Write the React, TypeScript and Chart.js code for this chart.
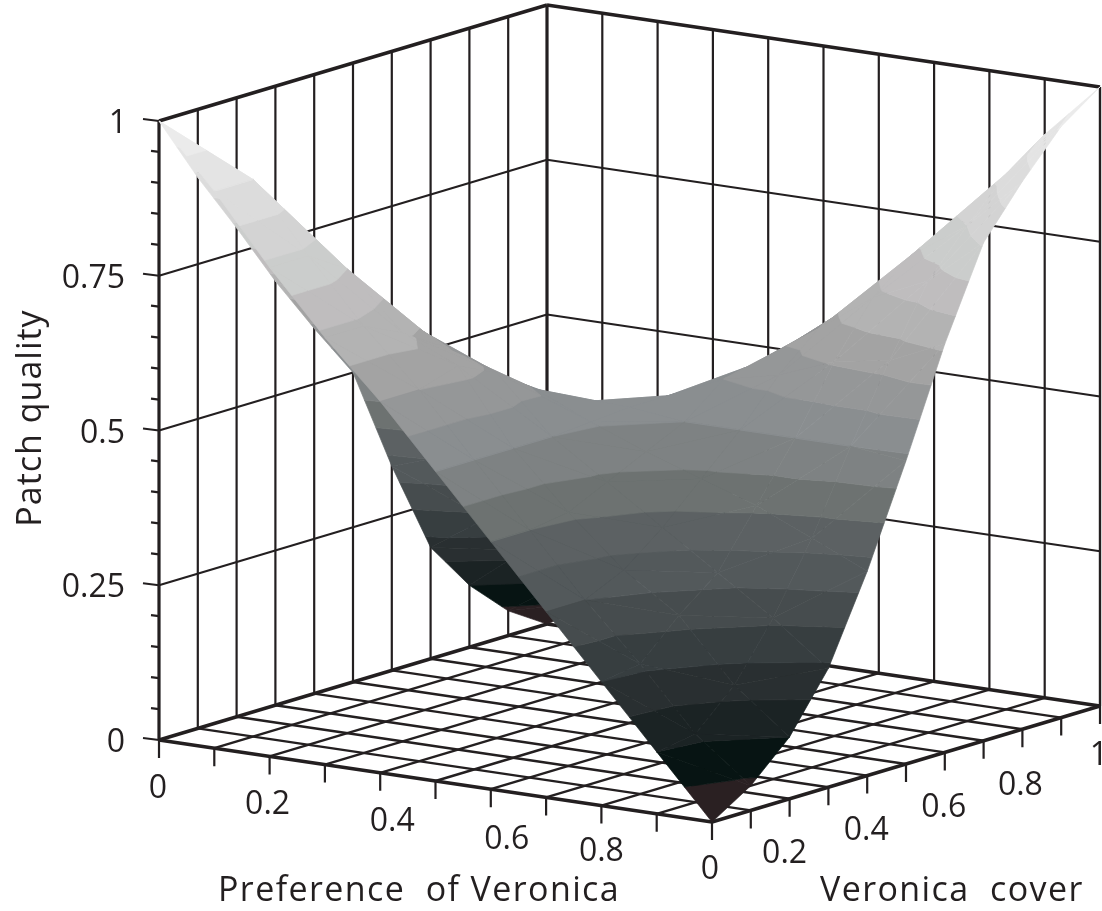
import React, { useEffect, useRef } from "react";
import { Chart, registerables } from "chart.js";

Chart.register(...registerables);

// Grid positions on the two horizontal axes
const preference = [0, 0.1, 0.2, 0.3, 0.4, 0.5, 0.6, 0.7, 0.8, 0.9, 1];
const cover = [0, 0.1, 0.2, 0.3, 0.4, 0.5, 0.6, 0.7, 0.8, 0.9, 1];

// Patch quality: one row per preference value, one column per cover value
const q00 = [1.0, 0.89, 0.79, 0.685, 0.59, 0.5, 0.33, 0.18, 0.1, 0.04, 0.0];
const q01 = [0.9, 0.9, 0.8, 0.69, 0.59, 0.49, 0.36, 0.24, 0.17, 0.1, 0.05];
const q02 = [0.79, 0.79, 0.75, 0.67, 0.61, 0.55, 0.41, 0.31, 0.25, 0.18, 0.12];
const q03 = [0.69, 0.69, 0.66, 0.62, 0.565, 0.52, 0.43, 0.37, 0.32, 0.27, 0.21];
const q04 = [0.6, 0.6, 0.62, 0.59, 0.545, 0.505, 0.47, 0.43, 0.41, 0.38, 0.34];
const q05 = [0.5, 0.5, 0.5, 0.5, 0.505, 0.51, 0.51, 0.5, 0.5, 0.49, 0.49];
const q06 = [0.4, 0.4, 0.41, 0.44, 0.47, 0.5, 0.55, 0.56, 0.58, 0.6, 0.6];
const q07 = [0.3, 0.3, 0.33, 0.38, 0.44, 0.5, 0.57, 0.625, 0.64, 0.67, 0.7];
const q08 = [0.2, 0.21, 0.27, 0.32, 0.41, 0.5, 0.605, 0.69, 0.74, 0.76, 0.8];
const q09 = [0.1, 0.11, 0.17, 0.26, 0.37, 0.5, 0.62, 0.73, 0.8, 0.865, 0.91];
const q10 = [0.0, 0.04, 0.1, 0.192, 0.33, 0.49, 0.66, 0.805, 0.885, 0.955, 1.0];
const quality = [q00, q01, q02, q03, q04, q05, q06, q07, q08, q09, q10];

// One grey per 0.05 band of patch quality, lowest first
const bandColors = [
  "#2a2022", "#071413", "#1b2324", "#292f31", "#373e40", "#464c4e", "#53595b",
  "#5c6163", "#6d7271", "#7e8283", "#8a8e90", "#959798", "#a3a3a3", "#b3b3b3",
  "#bfbdbe", "#cbcdcc", "#d3d3d3", "#dcdcdc", "#e4e4e4", "#ebebeb",
];
const bandStep = 0.05;

const zGridTicks = [0, 0.25, 0.5, 0.75, 1];
const zMinorTicks = [0.05, 0.1, 0.15, 0.2, 0.3, 0.35, 0.4, 0.45, 0.55, 0.6, 0.65, 0.7, 0.8, 0.85, 0.9, 0.95];
const zTickLabels = ["0", "0.25", "0.5", "0.75", "1"];
const prefTickLabels = ["0", "0.2", "0.4", "0.6", "0.8"];
const prefLabelTicks = [0, 0.2, 0.4, 0.6, 0.8];
const coverTickLabels = ["0", "0.2", "0.4", "0.6", "0.8", "1"];
const coverLabelTicks = [0, 0.2, 0.4, 0.6, 0.8, 1];
const xTitle = "Preference  of Veronica";
const coverTitle = "Veronica  cover";
const zTitle = "Patch quality";

const INK = "#231f20";
const FONT = '"Open Sans", sans-serif';

// Oblique view of the unit box, in scale units
const sx = (p: number, c: number) => 159 + 553 * p + 388 * c;
const sy = (p: number, c: number, z: number) => 740 + 82 * p - 116 * c - 619 * z;
type V = { p: number; c: number; z: number };
const toPt = (v: V) => ({ x: sx(v.p, v.c), y: sy(v.p, v.c, v.z) });

function clipAbove(poly: V[], level: number, keepAbove: boolean): V[] {
  const out: V[] = [];
  const inside = (v: V) => (keepAbove ? v.z >= level : v.z <= level);
  for (let i = 0; i < poly.length; i++) {
    const a = poly[i];
    const b = poly[(i + 1) % poly.length];
    if (inside(a)) out.push(a);
    if (inside(a) !== inside(b)) {
      const t = (level - a.z) / (b.z - a.z);
      out.push({ p: a.p + t * (b.p - a.p), c: a.c + t * (b.c - a.c), z: level });
    }
  }
  return out;
}

function surfaceDatasets() {
  const sets: any[] = [];
  const tri = (vs: V[]) => {
    bandColors.forEach((color, i) => {
      const lo = i * bandStep;
      const hi = (i + 1) * bandStep;
      let poly = clipAbove(vs, lo, true);
      if (poly.length) poly = clipAbove(poly, hi, false);
      if (poly.length >= 3) {
        sets.push({
          data: poly.map(toPt),
          polygonColor: color,
          borderWidth: 0,
          pointRadius: 0,
          fill: false,
        });
      }
    });
  };
  // back corner (p=0, c=1) first, front corner (p=1, c=0) last
  for (let i = 0; i < preference.length - 1; i++) {
    for (let j = cover.length - 2; j >= 0; j--) {
      const v = (a: number, b: number): V => ({ p: preference[a], c: cover[b], z: quality[a][b] });
      tri([v(i, j + 1), v(i, j), v(i + 1, j + 1)]);
      tri([v(i, j), v(i + 1, j + 1), v(i + 1, j)]);
    }
  }
  return sets;
}

function lineSet(a: { x: number; y: number }, b: { x: number; y: number }, width: number) {
  return {
    data: [a, b],
    borderColor: INK,
    borderWidth: width,
    pointRadius: 0,
    fill: false,
  };
}

function frameDatasets() {
  const sets: any[] = [];
  const P = (p: number, c: number, z: number) => ({ x: sx(p, c), y: sy(p, c, z) });
  const steps = preference;
  // walls, verticals
  steps.forEach((c) => {
    if (c > 0 && c < 1) sets.push(lineSet(P(0, c, 0), P(0, c, 1), 2.2));
  });
  steps.forEach((p) => {
    if (p > 0 && p < 1) sets.push(lineSet(P(p, 1, 0), P(p, 1, 1), 2.2));
  });
  // walls, horizontals
  zGridTicks.forEach((z) => {
    const w = z === 1 || z === 0 ? 3.4 : 2.2;
    sets.push(lineSet(P(0, 0, z), P(0, 1, z), w));
    sets.push(lineSet(P(0, 1, z), P(1, 1, z), w));
  });
  // floor grid
  steps.forEach((k) => {
    if (k > 0 && k < 1) {
      sets.push(lineSet(P(k, 0, 0), P(k, 1, 0), 2.4));
      sets.push(lineSet(P(0, k, 0), P(1, k, 0), 2.4));
    }
  });
  // floor front edges and corner posts
  sets.push(lineSet(P(0, 0, 0), P(1, 0, 0), 3.4));
  sets.push(lineSet(P(1, 0, 0), P(1, 1, 0), 3.4));
  sets.push(lineSet(P(0, 0, 0), P(0, 0, 1), 3.2));
  sets.push(lineSet(P(0, 1, 0), P(0, 1, 1), 3.2));
  sets.push(lineSet(P(1, 1, 0), P(1, 1, 1), 2.4));
  // ticks
  zGridTicks.forEach((z) => {
    const a = P(0, 0, z);
    sets.push(lineSet(a, { x: a.x - 16, y: a.y - 2 }, 2.2));
  });
  zMinorTicks.forEach((z) => {
    const a = P(0, 0, z);
    sets.push(lineSet(a, { x: a.x - 8, y: a.y - 1 }, 2.2));
  });
  steps.forEach((p) => {
    const a = P(p, 0, 0);
    sets.push(lineSet(a, { x: a.x, y: a.y + 18 }, 2.2));
  });
  steps.forEach((c) => {
    if (c > 0) {
      const a = P(1, c, 0);
      sets.push(lineSet(a, { x: a.x, y: a.y + 18 }, 2.2));
    }
  });
  return sets;
}

// Offsets of the tick labels from their axis positions, in pixels
const prefLabelOffsets = [[-1, 49], [-2, 48], [12, 49], [16, 51], [0, 46]];
const coverLabelOffsets = [[-2, 48], [-5, 55], [-1, 55], [-1, 55], [-2, 57], [-1, 50]];
const zLabelRight = 125;

const polygonPlugin = {
  id: "polygonFill",
  beforeDatasetDraw(chart: any, args: any) {
    const ds = chart.data.datasets[args.index];
    if (!ds.polygonColor) return;
    const pts = args.meta.data;
    const ctx = chart.ctx;
    ctx.save();
    ctx.beginPath();
    pts.forEach((pt: any, i: number) => (i ? ctx.lineTo(pt.x, pt.y) : ctx.moveTo(pt.x, pt.y)));
    ctx.closePath();
    ctx.fillStyle = ds.polygonColor;
    ctx.strokeStyle = ds.polygonColor;
    ctx.lineWidth = 0.7;
    ctx.lineJoin = "round";
    ctx.fill();
    ctx.stroke();
    ctx.restore();
  },
};

const labelPlugin = {
  id: "axisLabels",
  afterDraw(chart: any) {
    const { ctx, scales } = chart;
    const X = (v: number) => scales.x.getPixelForValue(v);
    const Y = (v: number) => scales.y.getPixelForValue(v);
    ctx.save();
    ctx.fillStyle = INK;
    ctx.font = `32px ${FONT}`;
    ctx.textBaseline = "middle";
    ctx.textAlign = "right";
    zTickLabels.forEach((t, i) => {
      ctx.fillText(t, zLabelRight + (t === "1" ? 2 : 0), Y(sy(0, 0, zGridTicks[i])) + 3);
    });
    ctx.textAlign = "center";
    prefTickLabels.forEach((t, i) => {
      const p = prefLabelTicks[i];
      const o = prefLabelOffsets[i];
      ctx.fillText(t, X(sx(p, 0)) + o[0], Y(sy(p, 0, 0)) + o[1]);
    });
    coverTickLabels.forEach((t, i) => {
      const c = coverLabelTicks[i];
      const o = coverLabelOffsets[i];
      ctx.fillText(t, X(sx(1, c)) + o[0], Y(sy(1, c, 0)) + o[1]);
    });
    ctx.font = `34px ${FONT}`;
    ctx.letterSpacing = "1.4px";
    ctx.textAlign = "left";
    ctx.textBaseline = "alphabetic";
    ctx.fillText(xTitle, 218, 901);
    ctx.fillText(coverTitle, 820, 901);
    ctx.letterSpacing = "1px";
    ctx.save();
    ctx.translate(41, 418);
    ctx.rotate(-Math.PI / 2);
    ctx.textAlign = "center";
    ctx.fillText(zTitle, 0, 0);
    ctx.restore();
    ctx.restore();
  },
};

export default function App() {
  const ref = useRef<HTMLCanvasElement>(null);
  useEffect(() => {
    const datasets = [...frameDatasets(), ...surfaceDatasets()].reverse();
    const chart = new Chart(ref.current as HTMLCanvasElement, {
      type: "line",
      data: { datasets },
      options: {
        animation: false,
        responsive: false,
        devicePixelRatio: 1,
        layout: { padding: 0 },
        events: [],
        elements: { line: { tension: 0 } },
        plugins: { legend: { display: false }, tooltip: { enabled: false } },
        scales: {
          x: { type: "linear", min: 0, max: 1102, display: false },
          y: { type: "linear", min: 0, max: 911, reverse: true, display: false },
        },
      },
      plugins: [polygonPlugin, labelPlugin],
    } as any);
    return () => chart.destroy();
  }, []);
  return (
    <div style={{ position: "absolute", left: 0, top: 0, width: 1102, height: 911, background: "#fff" }}>
      <canvas ref={ref} width={1102} height={911} style={{ display: "block" }} />
    </div>
  );
}
